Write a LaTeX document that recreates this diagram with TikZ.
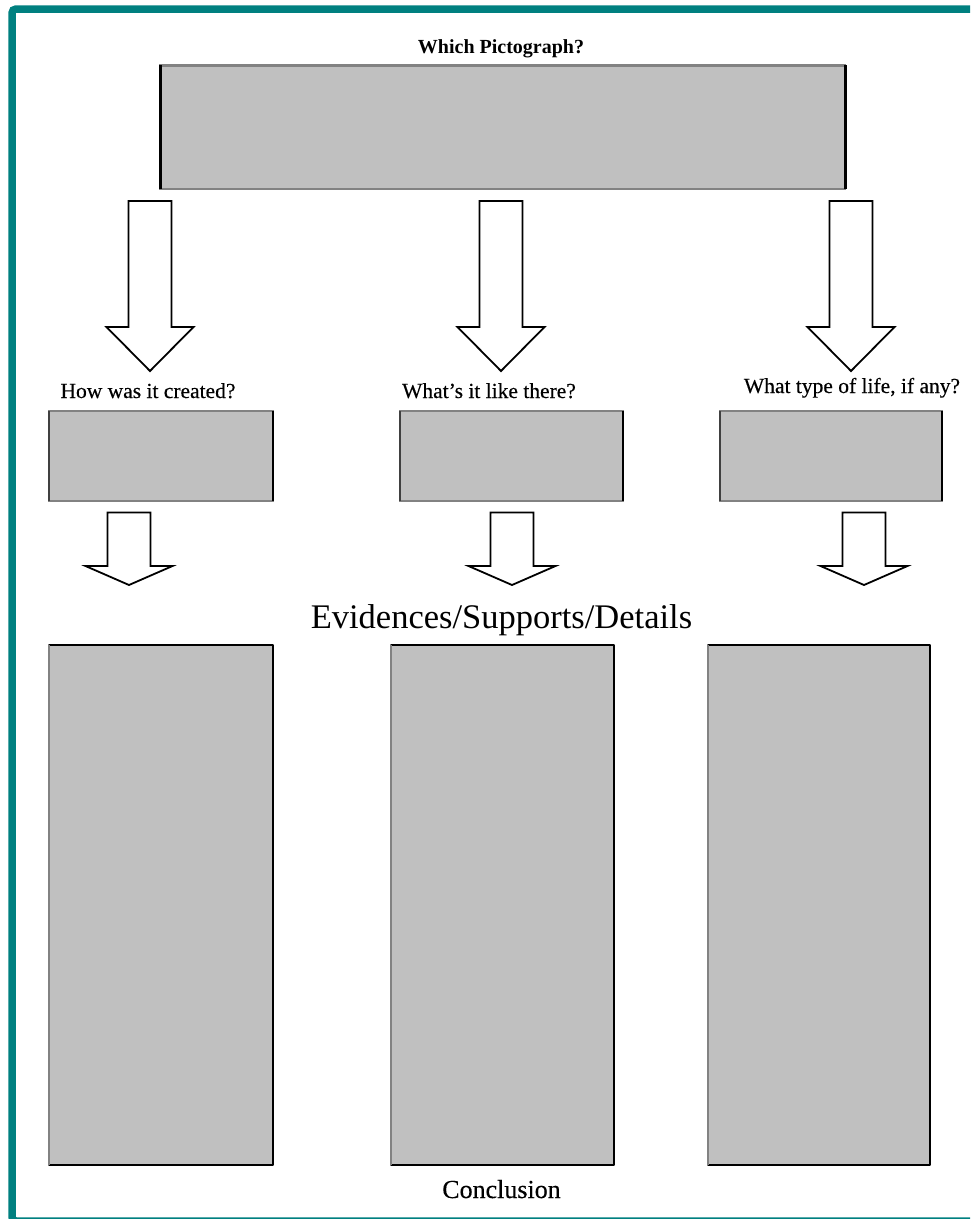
\documentclass[tikz,border=0pt]{standalone}
\usepackage{fontspec}
\setmainfont{Liberation Serif}
\newfontfamily\heavyserif[FakeBold=0.35]{Liberation Serif}
\usetikzlibrary{calc}
\definecolor{frameteal}{RGB}{0,128,128}
\definecolor{boxgray}{RGB}{192,192,192}
\definecolor{edgegray}{RGB}{130,130,130}
\begin{document}
\begin{tikzpicture}[x=1pt,y=-1pt,
  gbox/.style={fill=boxgray, draw=edgegray, line width=1.2pt, inner sep=0pt, outer sep=0pt},
  sideblack/.style={draw=black, line width=2.6pt},
  sidegray/.style={draw=black!75, line width=1.8pt},
  blockarr/.style={draw=black, line width=1.8pt, fill=white, line join=miter},
  qlabel/.style={anchor=base, inner sep=0pt, font=\heavyserif\fontsize{21.5}{26}\selectfont},
  ]
\useasboundingbox (0,0) rectangle (970,1219);
\begin{scope}
  \clip (0,0) rectangle (970,1219);
  \draw[frameteal, line width=7.5pt, rounded corners=4pt] (12,9) rectangle (995,1221);
\end{scope}

% title and top box
\node[anchor=base, inner sep=0pt, font=\bfseries\fontsize{20}{24}\selectfont] (title) at (501,53) {Which Pictograph?};
\node[gbox, minimum width=685pt, minimum height=124pt] (top) at (502.5,127) {};
\draw[edgegray, line width=3pt] (top.north west) -- (top.north east);
\draw[sideblack, line width=3pt] (top.north west) -- (top.south west);
\draw[sideblack, line width=3pt] (top.north east) -- (top.south east);

% labels
\node[qlabel] (q1) at (148,398) {How was it created?};
\node[qlabel] (q2) at (489,398) {What’s it like there?};
\node[qlabel] (q3) at (852,393) {What type of life, if any?};

% big arrows
\foreach \cx in {150,501,851} {
  \draw[blockarr] (\cx-21.5,201) -- (\cx-21.5,327) -- (\cx-43.5,327) -- (\cx,371)
    -- (\cx+43.5,327) -- (\cx+21.5,327) -- (\cx+21.5,201) -- cycle;
}

% middle boxes
\node[gbox, minimum width=224pt, minimum height=90pt] (m1) at (161,456) {};
\node[gbox, minimum width=223pt, minimum height=90pt] (m2) at (511.5,456) {};
\node[gbox, minimum width=222pt, minimum height=90pt] (m3) at (831,456) {};
\foreach \n in {m1,m2,m3} {
  \draw[sidegray] (\n.north west) -- (\n.south west);
  \draw[sideblack] (\n.north east) -- (\n.south east);
}

% small arrows
\foreach \cx in {129,512,864} {
  \draw[blockarr] (\cx-21.5,512.5) -- (\cx-21.5,566) -- (\cx-43.5,566) -- (\cx,585)
    -- (\cx+43.5,566) -- (\cx+21.5,566) -- (\cx+21.5,512.5) -- cycle;
}

% heading
\node[anchor=base, inner sep=0pt, font=\fontsize{34.5}{40}\selectfont] (evid) at (501.5,628) {Evidences/Supports/Details};

% tall boxes
\node[gbox, minimum width=224pt, minimum height=520pt] (t1) at (161,905) {};
\node[gbox, minimum width=223pt, minimum height=520pt] (t2) at (502.5,905) {};
\node[gbox, minimum width=222pt, minimum height=520pt] (t3) at (819,905) {};
\foreach \n in {t1,t2,t3} {
  \draw[black, line width=1.4pt] (\n.north west) -- (\n.north east);
  \draw[black, line width=1.6pt] (\n.south west) -- (\n.south east);
  \draw[edgegray, line width=1.6pt] (\n.north west) -- (\n.south west);
  \draw[black, line width=2pt] (\n.north east) -- (\n.south east);
}

\node[anchor=base, inner sep=0pt, font=\heavyserif\fontsize{26}{30}\selectfont] (concl) at (501.5,1198) {Conclusion};
\end{tikzpicture}
\end{document}
